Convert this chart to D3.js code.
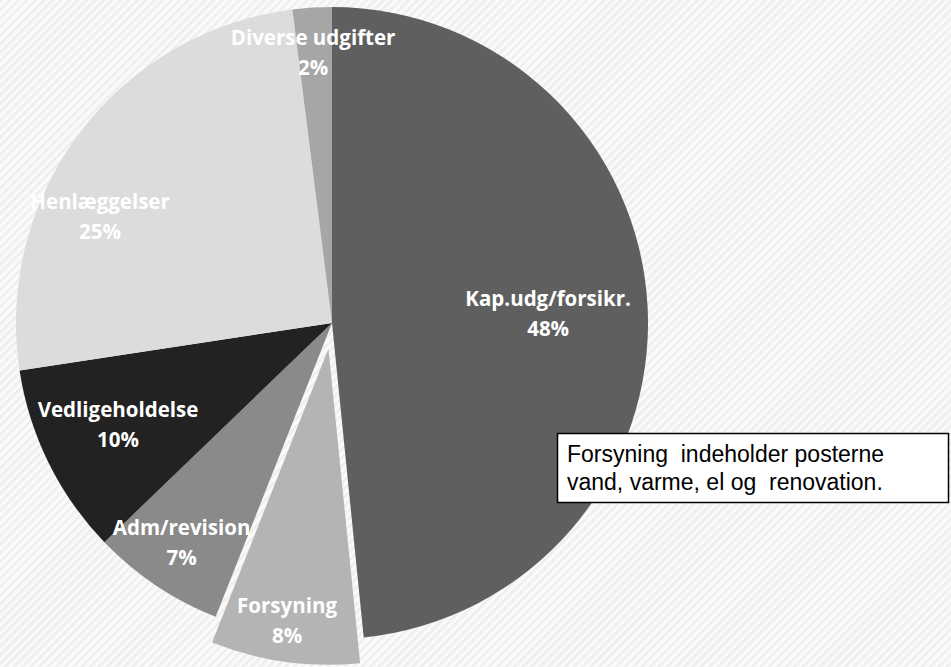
<!DOCTYPE html>
<html>
<head>
<meta charset="utf-8">
<script src="https://cdn.jsdelivr.net/npm/d3@7"></script>
<style>
  html, body { margin: 0; padding: 0; background: #fff; }
  svg { display: block; }
</style>
</head>
<body>
<svg id="chart" width="951" height="667"></svg>
<script>
// data (share of budget, %)
const categories = ["Kap.udg/forsikr.", "Forsyning", "Adm/revision", "Vedligeholdelse", "Henlæggelser", "Diverse udgifter"];
const values = [48.4, 7.6, 6.8, 9.8, 25.4, 2.0];
const noteLines = ["Forsyning  indeholder posterne", "vand, varme, el og  renovation."];

// styling
const colors = ["#5f5f5f", "#b4b4b4", "#8a8a8a", "#222222", "#dcdcdc", "#a6a6a6"];
const explode = [0, 26, 0, 0, 0, 0];
const labelRadius = [0.684, 0.893, 0.861, 0.76, 0.798, 0.835];
const labelTurn = [0.042, 0.009, -0.005, -0.012, -0.244, -0.009];

const width = 951, height = 667;
const cx = 332, cy = 323, r = 316;

const svg = d3.select("#chart");
const defs = svg.append("defs");

// diagonal hatched background
const pat = defs.append("pattern")
    .attr("id", "hatch")
    .attr("width", 6).attr("height", 6)
    .attr("patternUnits", "userSpaceOnUse")
    .attr("patternTransform", "rotate(45)");
pat.append("rect").attr("width", 6).attr("height", 6).attr("fill", "#fafafa");
pat.append("rect").attr("width", 2.5).attr("height", 6).attr("fill", "#eeeeee");

svg.append("rect").attr("width", width).attr("height", height).attr("fill", "url(#hatch)");

const total = d3.sum(values);
const pie = d3.pie().sort(null).value(d => d)(values);
const arc = d3.arc().innerRadius(0).outerRadius(r);
const pct = d3.format(".0%");

const g = svg.append("g").attr("transform", `translate(${cx},${cy})`);

function offset(d, i) {
    const a = (d.startAngle + d.endAngle) / 2;
    return [Math.sin(a) * explode[i], -Math.cos(a) * explode[i]];
}

g.selectAll("path.slice")
    .data(pie)
    .join("path")
    .attr("class", "slice")
    .attr("d", arc)
    .attr("fill", (d, i) => colors[i])
    .attr("transform", (d, i) => `translate(${offset(d, i)})`);

// data labels
g.selectAll("text.lbl")
    .data(pie)
    .join("text")
    .attr("class", "lbl")
    .each(function (d, i) {
        const a = (d.startAngle + d.endAngle) / 2 + labelTurn[i];
        const lr = labelRadius[i] * r;
        const o = offset(d, i);
        const x = Math.sin(a) * lr + o[0];
        const y = -Math.cos(a) * lr + o[1];
        const t = d3.select(this)
            .attr("text-anchor", "middle")
            .attr("fill", "#ffffff")
            .style("font-family", "'Open Sans', Lato, sans-serif")
            .style("font-weight", "bold")
            .style("font-size", "20.5px");
        t.append("tspan").attr("x", x).attr("y", y - 15).text(categories[i]);
        t.append("tspan").attr("x", x).attr("y", y + 15).text(pct(values[i] / total));
    });

// note box
const note = svg.append("g");
note.append("rect")
    .attr("x", 557.5).attr("y", 433.5)
    .attr("width", 391).attr("height", 69)
    .attr("fill", "#ffffff")
    .attr("stroke", "#000")
    .attr("stroke-width", 1.5);
note.selectAll("text")
    .data(noteLines)
    .join("text")
    .attr("x", 567)
    .attr("y", (d, i) => 462 + i * 28)
    .attr("fill", "#000")
    .style("font-family", "'Liberation Sans', Arial, sans-serif")
    .style("font-size", "23px")
    .style("white-space", "pre")
    .text(d => d);
</script>
</body>
</html>
